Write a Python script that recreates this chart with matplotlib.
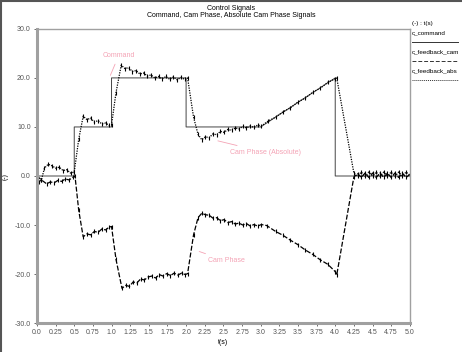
import matplotlib
matplotlib.use("Agg")
import matplotlib.pyplot as plt
from matplotlib.lines import Line2D

plt.rcParams['font.family'] = ['Liberation Sans', 'DejaVu Sans']

# command signal (solid)
t_cmd = [0.0, 0.5, 0.5, 1.0, 1.0, 2.0, 2.0, 3.0, 4.0, 4.0, 5.0]
v_cmd = [0.0, 0.0, 10.0, 10.0, 20.0, 20.0, 10.0, 10.0, 20.0, 0.0, 0.0]

# absolute cam phase (dotted)
t_abs = [0.0, 0.03, 0.06, 0.10, 0.15, 0.20, 0.25, 0.30, 0.35, 0.40, 0.45, 0.50,
         0.56, 0.62, 0.67, 0.72, 0.77, 0.82, 0.87, 0.92, 0.97, 1.00,
         1.06, 1.13, 1.18, 1.23, 1.28, 1.33, 1.38, 1.43, 1.48, 1.53, 1.58, 1.63,
         1.68, 1.73, 1.78, 1.83, 1.88, 1.93, 1.98, 2.02,
         2.10, 2.16, 2.21, 2.26, 2.31, 2.36, 2.41, 2.46, 2.51, 2.56, 2.61, 2.66,
         2.71, 2.76, 2.81, 2.86, 2.91, 2.96, 3.01,
         3.10, 3.20, 3.30, 3.40, 3.50, 3.60, 3.70, 3.80, 3.90, 4.00, 4.02,
         4.25, 4.30, 4.35, 4.40, 4.45, 4.50, 4.55, 4.60, 4.65, 4.70, 4.75, 4.80,
         4.85, 4.90, 4.95, 5.00]
v_abs = [0.0, -1.2, -0.8, 1.6, 2.4, 2.1, 1.6, 1.8, 1.1, 1.3, 0.6, 0.8,
         7.5, 12.2, 11.5, 11.8, 11.0, 11.3, 10.6, 10.8, 10.3, 10.4,
         17.0, 22.6, 21.9, 22.1, 21.3, 21.5, 20.8, 21.0, 20.4, 20.6, 20.0, 20.3,
         19.8, 20.3, 19.7, 20.2, 19.6, 20.1, 19.7, 20.0,
         12.0, 8.5, 7.4, 8.0, 7.8, 8.6, 8.4, 9.1, 8.9, 9.5, 9.3, 9.8,
         9.6, 10.1, 9.8, 10.2, 9.9, 10.4, 10.2,
         11.2, 12.0, 13.1, 13.9, 15.1, 15.9, 17.1, 17.9, 19.1, 19.8, 20.0,
         0.6, 0.0, 0.8, -0.1, 0.8, 0.0, 0.8, -0.1, 0.8, 0.0, 0.8, -0.1,
         0.8, 0.0, 0.8, 0.2]

# cam phase (dashed)
t_cam = [0.0, 0.06, 0.13, 0.18, 0.23, 0.28, 0.33, 0.38, 0.43, 0.48, 0.51,
         0.56, 0.62, 0.67, 0.72, 0.77, 0.82, 0.87, 0.92, 0.97, 1.00,
         1.06, 1.14, 1.19, 1.24, 1.29, 1.34, 1.39, 1.44, 1.49, 1.54, 1.59, 1.64,
         1.69, 1.74, 1.79, 1.84, 1.89, 1.94, 1.99, 2.02,
         2.10, 2.16, 2.21, 2.26, 2.31, 2.36, 2.41, 2.46, 2.51, 2.56, 2.61, 2.66,
         2.71, 2.76, 2.81, 2.86, 2.91, 2.96, 3.01, 3.08,
         3.20, 3.30, 3.40, 3.50, 3.60, 3.70, 3.80, 3.90, 4.00, 4.02,
         4.25, 4.30, 4.35, 4.40, 4.45, 4.50, 4.55, 4.60, 4.65, 4.70, 4.75, 4.80,
         4.85, 4.90, 4.95, 5.00]
v_cam = [0.0, -0.8, -1.6, -1.2, -1.4, -0.9, -1.1, -0.6, -0.8, -0.3, 0.0,
         -7.0, -12.4, -11.8, -12.0, -11.3, -11.5, -10.8, -11.0, -10.4, -10.3,
         -17.0, -22.9, -22.3, -22.5, -21.6, -21.8, -21.0, -21.2, -20.6, -20.4, -20.8, -20.1,
         -20.4, -19.9, -20.3, -19.8, -20.2, -19.8, -20.1, -19.9,
         -12.0, -8.5, -7.6, -7.9, -8.0, -8.6, -8.5, -9.1, -8.9, -9.5, -9.3, -9.8,
         -9.6, -10.0, -9.7, -10.2, -9.9, -10.2, -9.9, -10.1,
         -11.3, -12.1, -13.1, -14.0, -15.1, -16.0, -17.1, -18.0, -19.5, -20.2,
         -0.2, 0.5, -0.3, 0.6, -0.3, 0.6, -0.3, 0.6, -0.3, 0.6, -0.3, 0.6,
         -0.3, 0.6, -0.3, 0.3]

x_ticks = [0.0, 0.25, 0.5, 0.75, 1.0, 1.25, 1.5, 1.75, 2.0, 2.25, 2.5, 2.75,
           3.0, 3.25, 3.5, 3.75, 4.0, 4.25, 4.5, 4.75, 5.0]
x_labels = ['0.0', '0.25', '0.5', '0.75', '1.0', '1.25', '1.5', '1.75', '2.0', '2.25',
            '2.5', '2.75', '3.0', '3.25', '3.5', '3.75', '4.0', '4.25', '4.5', '4.75', '5.0']
y_ticks = [-30, -20, -10, 0, 10, 20, 30]
y_labels = ['-30.0', '-20.0', '-10.0', '0.0', '10.0', '20.0', '30.0']

pink = '#f4a3b5'
gray = '#a0a0a0'

fig = plt.figure(figsize=(4.62, 3.52), dpi=100)
ax = fig.add_axes([0.080, 0.082, 0.807, 0.836])

ax.plot(t_cmd, v_cmd, color='#444444', lw=0.7)
ax.plot(t_cam, v_cam, color='black', lw=0.9, ls=(0, (4, 1.5)),
        marker='|', ms=2.5, mew=0.8)
ax.plot(t_abs, v_abs, color='black', lw=0.9, ls=(0, (1, 1)),
        marker='|', ms=2.5, mew=0.8)

ax.set_xlim(0, 5)
ax.set_ylim(-30, 30)
ax.set_xticks(x_ticks)
ax.set_xticklabels(x_labels)
ax.set_yticks(y_ticks)
ax.set_yticklabels(y_labels)
ax.tick_params(labelsize=5, length=2.5, width=0.6, colors='#555555', pad=2)
ax.set_xlabel('t(s)', fontsize=5, labelpad=2)
ax.set_ylabel('(-)', fontsize=5)
ax.yaxis.set_label_coords(-0.077, 0.5)

for side in ['left', 'bottom']:
    ax.spines[side].set_color(gray)
    ax.spines[side].set_linewidth(2.2)
for side in ['top', 'right']:
    ax.spines[side].set_color(gray)
    ax.spines[side].set_linewidth(1.0)

# pink annotations
ax.annotate('Command', xy=(0.97, 20.0), xytext=(0.88, 24.6), fontsize=5, color=pink,
            va='center', arrowprops=dict(arrowstyle='-', color=pink, lw=0.6))
ax.annotate('Cam Phase (Absolute)', xy=(2.39, 7.3), xytext=(2.59, 4.8), fontsize=5,
            color=pink, va='center', arrowprops=dict(arrowstyle='-', color=pink, lw=0.6))
ax.annotate('Cam Phase', xy=(2.14, -15.2), xytext=(2.29, -17.3), fontsize=5,
            color=pink, va='center', arrowprops=dict(arrowstyle='-', color=pink, lw=0.6))

# titles
fig.text(0.5, 0.977, 'Control Signals', ha='center', va='center', fontsize=5)
fig.text(0.5, 0.955, 'Command, Cam Phase, Absolute Cam Phase Signals',
         ha='center', va='center', fontsize=5)

# legend on the right
lx = 412 / 462
fig.text(lx, 1 - 23 / 352, '(-) : t(s)', fontsize=4.5, va='center')
fig.text(lx, 1 - 33 / 352, 'c_command', fontsize=4.5, va='center')
fig.text(lx, 1 - 52 / 352, 'c_feedback_cam', fontsize=4.5, va='center')
fig.text(lx, 1 - 71 / 352, 'c_feedback_abs', fontsize=4.5, va='center')
x_leg = [lx, 458 / 462]
fig.add_artist(Line2D(x_leg, [1 - 42 / 352] * 2, color='#333333', lw=0.7))
fig.add_artist(Line2D(x_leg, [1 - 61 / 352] * 2, color='#333333', lw=0.7, ls=(0, (4, 2))))
fig.add_artist(Line2D(x_leg, [1 - 80 / 352] * 2, color='#333333', lw=0.7, ls=(0, (1, 1))))

# figure frame on left and top
fig.add_artist(Line2D([0.002, 0.002], [0, 1], color='#555555', lw=1.5))
fig.add_artist(Line2D([0, 1], [0.998, 0.998], color='#555555', lw=1.5))

fig.savefig('out.png', dpi=100)
